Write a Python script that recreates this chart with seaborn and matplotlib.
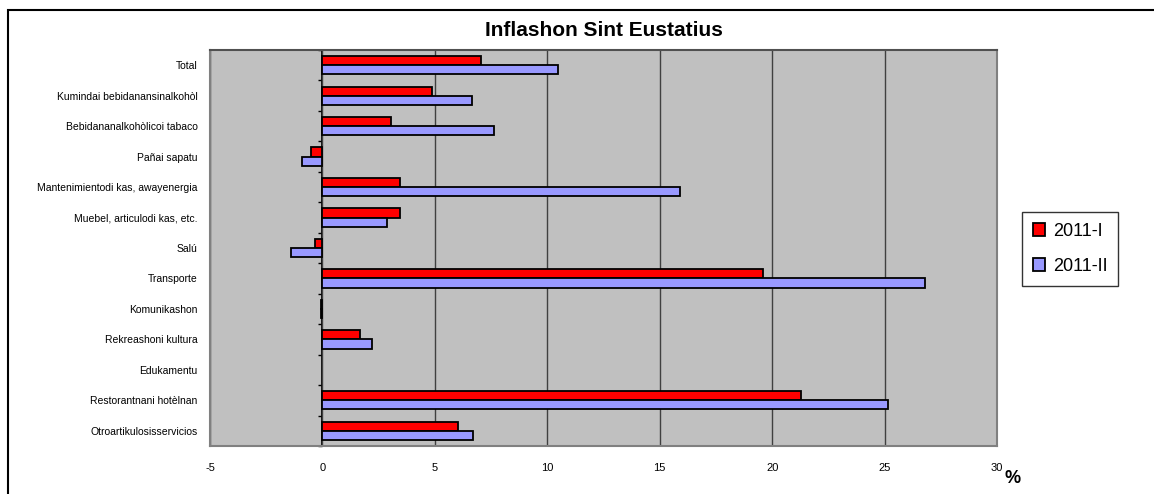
import matplotlib
matplotlib.use("Agg")
import matplotlib.pyplot as plt
import matplotlib.patches as mpatches
import seaborn as sns
import pandas as pd
import numpy as np

categories = ["Total", "Kumindai bebidanansinalkohòl", "Bebidananalkohòlicoi tabaco",
              "Pañai sapatu", "Mantenimientodi kas, awayenergia", "Muebel, articulodi kas, etc.",
              "Salú", "Transporte", "Komunikashon", "Rekreashoni kultura", "Edukamentu",
              "Restorantnani hotèlnan", "Otroartikulosisservicios"]
series_names = ["2011-I", "2011-II"]
vals_2011_1 = [7.05, 4.88, 3.04, -0.49, 3.46, 3.44, -0.32, 19.6, -0.08, 1.69, 0.0, 21.27, 6.04]
vals_2011_2 = [10.46, 6.63, 7.64, -0.90, 15.92, 2.88, -1.41, 26.8, -0.08, 2.20, 0.0, 25.16, 6.71]
x_ticks = [-5, 0, 5, 10, 15, 20, 25, 30]

df = pd.DataFrame({
    "cat": categories * 2,
    "serie": [series_names[0]] * len(categories) + [series_names[1]] * len(categories),
    "val": vals_2011_1 + vals_2011_2,
})

plt.rcParams["font.family"] = ["Liberation Sans", "DejaVu Sans"]
fig = plt.figure(figsize=(11.54, 4.94), dpi=100)
ax = fig.add_axes([210 / 1154, 1 - 446 / 494, (997 - 210) / 1154, (446 - 50) / 494])

sns.barplot(data=df, x="val", y="cat", hue="serie", orient="h", order=categories,
            hue_order=series_names, palette=["#FF0000", "#9999FF"], width=0.6,
            edgecolor="black", linewidth=1.3, saturation=1, ax=ax, legend=False)

# zero bars show nothing
for p in ax.patches:
    if p.get_width() == 0:
        p.set_linewidth(0)

ax.set_facecolor("#C0C0C0")
ax.set_xlim(-5, 30)
ax.set_ylim(len(categories) - 0.5, -0.5)
ax.set_xticks(x_ticks)
ax.set_xticklabels([str(t) for t in x_ticks], fontsize=8)
ax.tick_params(axis="x", length=0, pad=12)
ax.tick_params(axis="y", length=0, pad=9, labelsize=7.5)
ax.set_xlabel("")
ax.set_ylabel("")
ax.xaxis.grid(True, color="#404040", linewidth=1)
ax.set_axisbelow(True)
for s in ax.spines.values():
    s.set_color("#808080")
    s.set_linewidth(1.5)
ax.spines["top"].set_color("#505050")

# category axis at x = 0
loc0 = (0 - ax.get_xlim()[0]) / (ax.get_xlim()[1] - ax.get_xlim()[0])
sec = ax.secondary_yaxis(loc0)
sec.set_yticks(np.arange(len(categories) + 1) - 0.5)
sec.set_yticklabels([])
sec.tick_params(axis="y", length=3, width=1, color="black")
sec.spines["left"].set_color("black")
sec.spines["left"].set_linewidth(1.3)

ax.set_title("Inflashon Sint Eustatius", fontsize=15, fontweight="bold", pad=10)
fig.text(1013 / 1154, 1 - 478 / 494, "%", fontsize=13, fontweight="bold", ha="center", va="center")

handles = [mpatches.Patch(facecolor=c, edgecolor="black", linewidth=1.3) for c in ["#FF0000", "#9999FF"]]
leg = fig.legend(handles, series_names, loc="upper left", bbox_to_anchor=(1022 / 1154, 1 - 212 / 494),
                 fontsize=13, frameon=True, fancybox=False, handlelength=0.7, handleheight=0.7,
                 handletextpad=0.4, borderpad=0.6, labelspacing=1.0, borderaxespad=0)
leg.get_frame().set_edgecolor("black")
leg.get_frame().set_linewidth(1)

fig.patches.append(mpatches.Rectangle((8 / 1154, -0.05), 1.1, 1 - 10 / 494 + 0.05,
                                      transform=fig.transFigure, fill=False,
                                      edgecolor="black", linewidth=1.5))

fig.savefig("out.png", dpi=100)
